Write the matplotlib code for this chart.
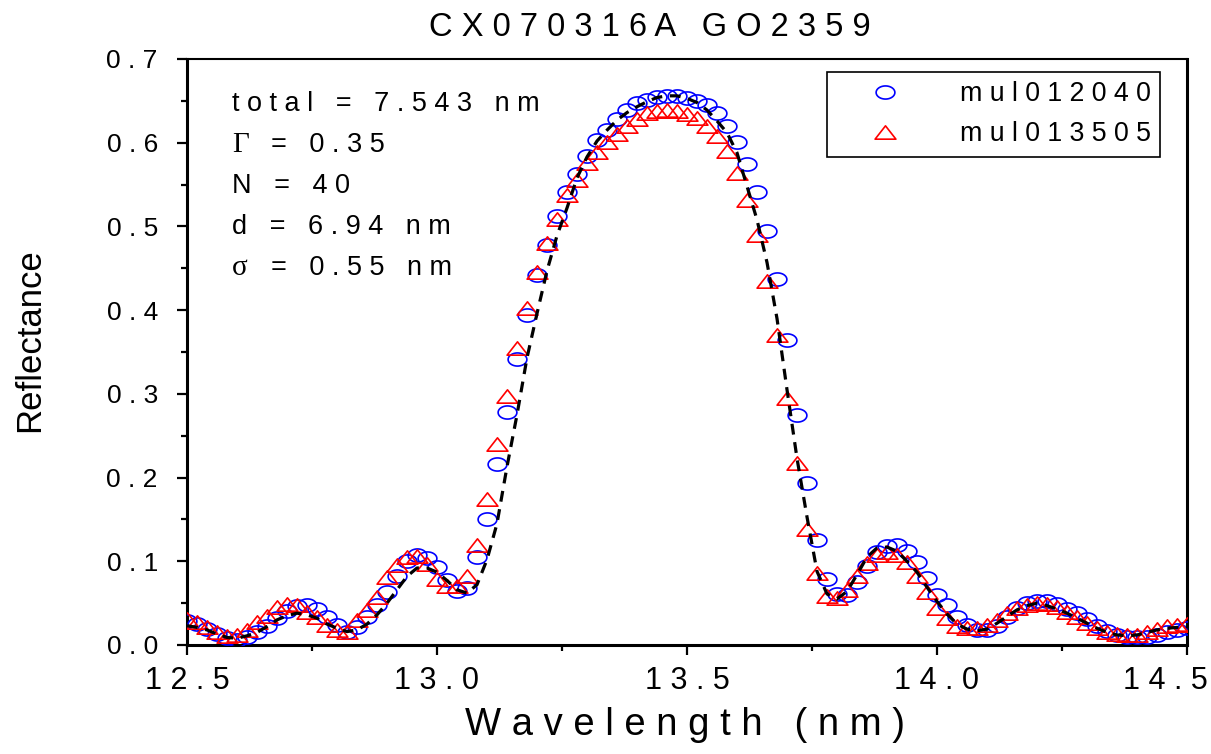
import matplotlib
matplotlib.use("Agg")
import matplotlib.pyplot as plt
import numpy as np
from matplotlib.path import Path
from matplotlib.ticker import MultipleLocator, FuncFormatter

# ---- data -----------------------------------------------------------------
wavelength = [
    12.50, 12.52, 12.54, 12.56, 12.58, 12.60, 12.62, 12.64, 12.66, 12.68,
    12.70, 12.72, 12.74, 12.76, 12.78, 12.80, 12.82, 12.84, 12.86, 12.88,
    12.90, 12.92, 12.94, 12.96, 12.98, 13.00, 13.02, 13.04, 13.06, 13.08,
    13.10, 13.12, 13.14, 13.16, 13.18, 13.20, 13.22, 13.24, 13.26, 13.28,
    13.30, 13.32, 13.34, 13.36, 13.38, 13.40, 13.42, 13.44, 13.46, 13.48,
    13.50, 13.52, 13.54, 13.56, 13.58, 13.60, 13.62, 13.64, 13.66, 13.68,
    13.70, 13.72, 13.74, 13.76, 13.78, 13.80, 13.82, 13.84, 13.86, 13.88,
    13.90, 13.92, 13.94, 13.96, 13.98, 14.00, 14.02, 14.04, 14.06, 14.08,
    14.10, 14.12, 14.14, 14.16, 14.18, 14.20, 14.22, 14.24, 14.26, 14.28,
    14.30, 14.32, 14.34, 14.36, 14.38, 14.40, 14.42, 14.44, 14.46, 14.48,
    14.50,
]

mul012040 = [
    0.029, 0.025, 0.019, 0.013, 0.008, 0.006, 0.009, 0.015, 0.023, 0.032,
    0.041, 0.047, 0.048, 0.043, 0.034, 0.024, 0.015, 0.022, 0.033, 0.048,
    0.063, 0.082, 0.100, 0.108, 0.104, 0.093, 0.078, 0.064, 0.068, 0.105,
    0.150, 0.216, 0.278, 0.342, 0.394, 0.442, 0.478, 0.512, 0.541, 0.563,
    0.584, 0.603, 0.615, 0.628, 0.639, 0.647, 0.651, 0.655, 0.656, 0.656,
    0.654, 0.650, 0.645, 0.635, 0.620, 0.601, 0.574, 0.541, 0.494, 0.437,
    0.364, 0.275, 0.194, 0.125, 0.079, 0.061, 0.060, 0.075, 0.094, 0.111,
    0.118, 0.120, 0.112, 0.099, 0.080, 0.060, 0.048, 0.034, 0.024, 0.018,
    0.018, 0.023, 0.033, 0.044, 0.050, 0.053, 0.053, 0.049, 0.043, 0.038,
    0.031, 0.023, 0.017, 0.012, 0.010, 0.010, 0.010, 0.012, 0.015, 0.018,
    0.020,
]

mul013505 = [
    0.031, 0.027, 0.021, 0.015, 0.011, 0.012, 0.018, 0.027, 0.035, 0.045,
    0.049, 0.048, 0.040, 0.033, 0.024, 0.018, 0.016, 0.030, 0.042, 0.057,
    0.081, 0.095, 0.105, 0.106, 0.097, 0.079, 0.070, 0.070, 0.083, 0.120,
    0.175, 0.240, 0.298, 0.355, 0.403, 0.445, 0.480, 0.509, 0.537, 0.556,
    0.576, 0.589, 0.601, 0.611, 0.620, 0.628, 0.635, 0.638, 0.639, 0.638,
    0.634, 0.629, 0.620, 0.608, 0.590, 0.564, 0.532, 0.490, 0.435, 0.370,
    0.295, 0.218, 0.139, 0.086, 0.059, 0.056, 0.066, 0.082, 0.098, 0.108,
    0.111, 0.108, 0.099, 0.082, 0.063, 0.044, 0.032, 0.023, 0.020, 0.020,
    0.024, 0.030, 0.038, 0.044, 0.048, 0.050, 0.049, 0.045, 0.040, 0.034,
    0.026, 0.020, 0.015, 0.013, 0.012, 0.012, 0.015, 0.019, 0.023, 0.024,
    0.025,
]

fit = [
    0.023, 0.021, 0.018, 0.013, 0.009, 0.008, 0.011, 0.015, 0.022, 0.030,
    0.035, 0.038, 0.036, 0.032, 0.025, 0.020, 0.016, 0.018, 0.025, 0.036,
    0.050, 0.066, 0.082, 0.092, 0.092, 0.087, 0.077, 0.066, 0.062, 0.072,
    0.102, 0.145, 0.213, 0.275, 0.343, 0.396, 0.447, 0.489, 0.522, 0.558,
    0.583, 0.602, 0.615, 0.627, 0.636, 0.643, 0.649, 0.654, 0.656, 0.656,
    0.653, 0.648, 0.639, 0.626, 0.612, 0.588, 0.548, 0.508, 0.457, 0.390,
    0.305, 0.223, 0.153, 0.088, 0.061, 0.055, 0.064, 0.084, 0.105, 0.116,
    0.117, 0.112, 0.100, 0.087, 0.069, 0.052, 0.037, 0.025, 0.019, 0.017,
    0.019, 0.026, 0.034, 0.042, 0.047, 0.050, 0.047, 0.043, 0.038, 0.032,
    0.026, 0.020, 0.015, 0.012, 0.011, 0.012, 0.015, 0.018, 0.020, 0.021,
    0.022,
]

params = [("", "total = 7.543 nm"), ("Γ", "= 0.35"), ("", "N = 40"),
          ("", "d = 6.94 nm"), ("σ", "= 0.55 nm")]

SANS = ["Liberation Sans", "DejaVu Sans"]
SERIF = ["Liberation Serif", "DejaVu Serif"]
W, H = 1211, 754
XMAX = 14.5


def spaced(s):
    """Origin-style letter tracking: one space between glyphs."""
    return " ".join(s)


def xfmt(v, pos):
    # the last label is drawn separately so it stays inside the picture
    if abs(v - XMAX) < 1e-9:
        return ""
    return spaced(f"{v:.1f}")


# squashed markers, wider than tall like the original
t = np.linspace(0, 2 * np.pi, 60)
ELLIPSE = Path(np.column_stack([np.cos(t), 0.7 * np.sin(t)]), closed=True)
TRIANGLE = Path([(-1, -0.64), (1, -0.64), (0, 0.64), (-1, -0.64)], closed=True)

plt.rcParams.update({"font.family": SANS})

fig = plt.figure(figsize=(W / 100, H / 100), dpi=100, facecolor="white")
ax = fig.add_axes([187 / W, 1 - 645 / H, 1000 / W, 586 / H])

ax.plot(wavelength, mul012040, linestyle="none", marker=ELLIPSE,
        markersize=13.5, markerfacecolor="none", markeredgecolor="#0000ff",
        markeredgewidth=1.2, label=spaced("mul012040"), zorder=3)
ax.plot(wavelength, mul013505, linestyle="none", marker=TRIANGLE,
        markersize=15, markerfacecolor="none", markeredgecolor="#ff0000",
        markeredgewidth=1.2, label=spaced("mul013505"), zorder=4)
ax.plot(wavelength, fit, color="black", linewidth=2.3,
        linestyle=(0, (3.4, 2.4)), zorder=5)

ax.set_xlim(12.5, XMAX)
ax.set_ylim(0, 0.7)
ax.xaxis.set_major_locator(MultipleLocator(0.5))
ax.xaxis.set_minor_locator(MultipleLocator(0.25))
ax.yaxis.set_major_locator(MultipleLocator(0.1))
ax.yaxis.set_minor_locator(MultipleLocator(0.05))
ax.xaxis.set_major_formatter(FuncFormatter(xfmt))
ax.yaxis.set_major_formatter(FuncFormatter(lambda v, p: spaced(f"{v:.1f}")))
ax.tick_params(which="both", direction="out", width=1.6, top=False,
               right=False)
ax.tick_params(which="major", length=7)
ax.tick_params(which="minor", length=4)
ax.tick_params(axis="x", pad=8, labelsize=22)
ax.tick_params(axis="y", pad=14, labelsize=19)

fig.text(1208 / W, 1 - 666 / H, spaced(f"{XMAX:.1f}"), fontsize=22,
         ha="right", va="top")

for side in ("left", "bottom", "right"):
    ax.spines[side].set_linewidth(2.2)
ax.spines["top"].set_linewidth(1.5)

# title sits a little left of the axes centre in the original
fig.text(650 / W, 1 - 27 / H, spaced("CX070316A") + "   " + spaced("GO2359"),
         fontsize=23.5, ha="center", va="center")
ax.set_xlabel(spaced("Wavelength") + "   " + spaced("(nm)"), fontsize=27.5,
              va="center")
ax.xaxis.set_label_coords((685 - 187) / 1000, -(725 - 645) / 586)
ax.set_ylabel("Reflectance", fontsize=25, va="center")
ax.yaxis.set_label_coords(-(187 - 30) / 1000, (645 - 340) / 586)

# fit parameters
for k, (greek, rest) in enumerate(params):
    y = (645 - (104 + 41 * k)) / 586
    if greek:
        ax.text(0.045, y, greek, transform=ax.transAxes, fontsize=21,
                family=SERIF, va="center", ha="left")
        ax.text(0.084, y, spaced(rest), transform=ax.transAxes,
                fontsize=19.5, va="center", ha="left")
    else:
        ax.text(0.045, y, spaced(rest), transform=ax.transAxes,
                fontsize=19.5, va="center", ha="left")

leg = ax.legend(loc="upper right", bbox_to_anchor=(0.973, 0.978),
                bbox_transform=ax.transAxes, borderaxespad=0, fontsize=19.3,
                frameon=True, fancybox=False, framealpha=1, numpoints=1,
                handlelength=3.6, handletextpad=1.0, borderpad=0.35,
                labelspacing=0.53)
leg.get_frame().set_edgecolor("black")
leg.get_frame().set_linewidth(1.2)

fig.savefig("out.png", dpi=100, facecolor="white")
